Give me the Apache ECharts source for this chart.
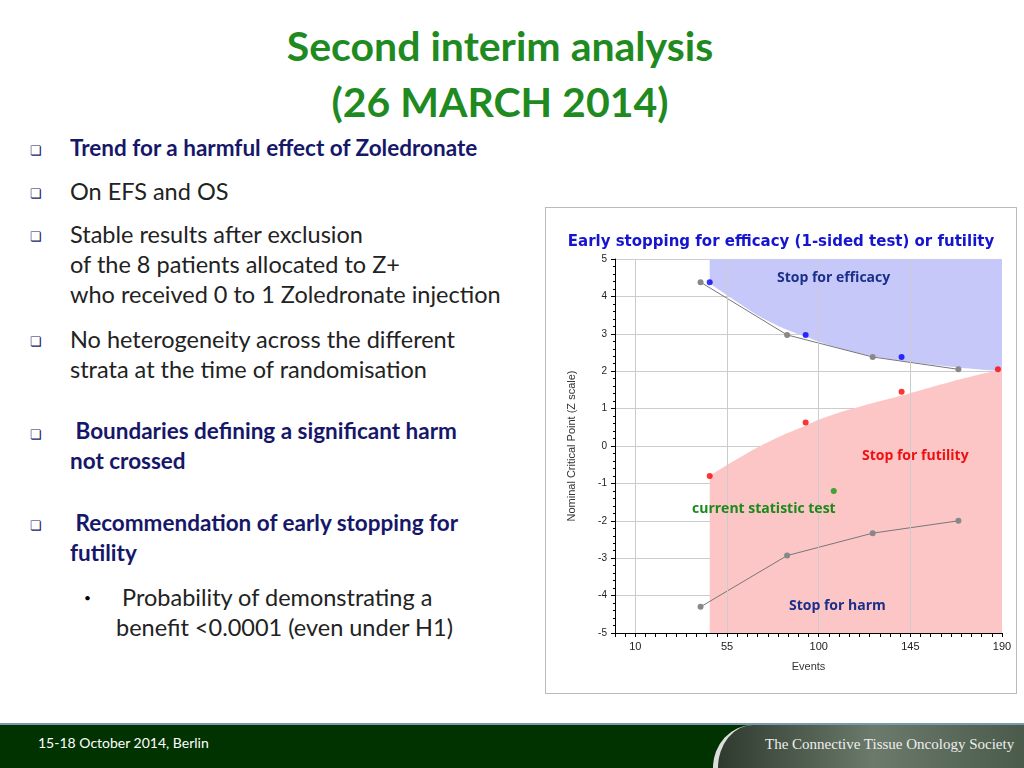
<!DOCTYPE html>
<html><head><meta charset="utf-8">
<script src="https://cdn.jsdelivr.net/npm/echarts@6/dist/echarts.min.js"></script>
<style>
body{margin:0;width:1024px;height:768px;overflow:hidden;background:#fff;font-family:Lato,"Open Sans",sans-serif;position:relative}
.t{position:absolute;white-space:nowrap}
.title{left:0;width:1000px;text-align:center;color:#1f8a1f;font-weight:bold;font-size:41px}
.b{left:30px;font-size:13px;color:#1a1a6e}
.tx{left:70px;font-size:23.5px;color:#222;line-height:30px}
.bold{font-weight:bold;color:#17176a;font-size:22.5px}
#chart{position:absolute;left:545px;top:207px;width:472px;height:487px;border:1px solid #bbb;box-sizing:border-box}
</style></head><body>
<div class="t title" style="top:21px">Second interim analysis</div>
<div class="t title" style="top:77px">(26 MARCH 2014)</div>
<div class="t b" style="top:142px">&#10063;</div><div class="t tx bold" style="top:133px">Trend for a harmful effect of Zoledronate</div>
<div class="t b" style="top:185px">&#10063;</div><div class="t tx" style="top:176px">On EFS and OS</div>
<div class="t b" style="top:228px">&#10063;</div><div class="t tx" style="top:219px">Stable results after exclusion<br>of the 8 patients allocated to Z+<br>who received 0 to 1 Zoledronate injection</div>
<div class="t b" style="top:333px">&#10063;</div><div class="t tx" style="top:324px">No heterogeneity across the different<br>strata at the time of randomisation</div>
<div class="t b" style="top:426px">&#10063;</div><div class="t tx bold" style="top:416px">&nbsp;Boundaries defining a significant harm<br>not crossed</div>
<div class="t b" style="top:517px">&#10063;</div><div class="t tx bold" style="top:508px">&nbsp;Recommendation of early stopping for<br>futility</div>
<div class="t" style="left:84px;top:590px;font-size:12px">&#8226;</div><div class="t tx" style="left:116px;top:582px">&nbsp;Probability of demonstrating a<br>benefit &lt;0.0001 (even under H1)</div>
<div id="chart"></div>
<div style="position:absolute;left:0;top:723px;width:1024px;height:45px;background:#003300;border-top:2px solid #7a9ab0"></div>
<div style="position:absolute;left:713px;top:725px;width:311px;height:43px;background:linear-gradient(90deg,#2e3a2e,#6b7a6b 50%,#4a5a4a);border-left:5px solid #ddd;border-top-left-radius:40px 43px"></div>
<div class="t" style="left:38px;top:734px;color:#fff;font-size:14px">15-18 October 2014, Berlin</div>
<div class="t" style="left:765px;top:736px;color:#eee;font-size:15px;font-family:'Liberation Serif',serif">The Connective Tissue Oncology Society</div>
<script>
const upperGray=[[42,4.38],[84.5,2.97],[126.5,2.38],[168.6,2.05]];
const lowerGray=[[42,-4.3],[84.5,-2.93],[126.5,-2.33],[168.6,-2.0]];
const bluePts=[[46.5,4.38],[93.6,2.97],[140.7,2.38]];
const redPts=[[46.5,-0.8],[93.6,0.63],[140.7,1.45],[188,2.05]];
const greenPt=[[107.4,-1.2]];
const effBoundary=[[46.5,4.35],[60,3.85],[75,3.35],[93.6,2.92],[110,2.62],[125,2.42],[140.7,2.28],[165,2.12],[190,2.0]];
const futBoundary=[[46.5,-0.8],[60,-0.35],[75,0.1],[93.6,0.55],[105,0.8],[120,1.05],[140.7,1.35],[165,1.72],[190,2.05]];
const xTicks=[10,55,100,145,190];
const c=echarts.init(document.getElementById('chart'));
const mk=(d,col)=>({type:'scatter',data:d,symbol:'circle',symbolSize:6,itemStyle:{color:col},z:5});
c.setOption({animation:false,
title:{text:'Early stopping for efficacy (1-sided test) or futility',left:'center',top:22,textStyle:{color:'#1515d0',fontSize:15,fontWeight:'bold',fontFamily:'DejaVu Sans'}},
grid:{left:69,right:14,top:51,bottom:60},
xAxis:{type:'value',min:0,max:190,interval:5,name:'Events',nameLocation:'middle',nameGap:28,nameTextStyle:{color:'#333',fontSize:11},
 axisLine:{onZero:false,lineStyle:{color:'#000'}},axisTick:{length:4,lineStyle:{color:'#000'}},
 axisLabel:{color:'#222',fontSize:11,interval:0,hideOverlap:false,formatter:v=>xTicks.includes(v)?String(v):''},
 splitLine:{show:false}},
yAxis:{type:'value',min:-5,max:5,interval:1,name:'Nominal Critical Point (Z scale)',nameLocation:'middle',nameGap:38,nameTextStyle:{color:'#333',fontSize:11},
 axisLine:{show:true,lineStyle:{color:'#000'}},axisTick:{show:true,length:4,lineStyle:{color:'#000'}},minorTick:{show:true,splitNumber:5,length:2},
 axisLabel:{color:'#222',fontSize:10},splitLine:{lineStyle:{color:'#ccc'}}},
series:[
{type:'line',data:effBoundary,smooth:true,symbol:'none',lineStyle:{width:0},areaStyle:{origin:'end',color:'#c6c8fa',opacity:1},z:1},
{type:'line',data:futBoundary,smooth:true,symbol:'none',lineStyle:{width:0},areaStyle:{origin:'start',color:'#fcc6c6',opacity:1},z:1},
{type:'line',data:[],symbol:'none',
 markLine:{silent:true,symbol:'none',label:{show:false},lineStyle:{color:'#ccc',type:'solid',width:1},data:xTicks.slice(0,4).map(v=>({xAxis:v}))},z:2},
{type:'line',data:upperGray,symbol:'circle',symbolSize:6,itemStyle:{color:'#888'},lineStyle:{color:'#777',width:1},z:4},
{type:'line',data:lowerGray,symbol:'circle',symbolSize:6,itemStyle:{color:'#888'},lineStyle:{color:'#777',width:1},z:4},
mk(bluePts,'#0000ff'),mk(redPts,'#ff0000'),mk(greenPt,'#119911')
],
graphic:[
{type:'text',z:100,left:231,top:63,style:{text:'Stop for efficacy',fill:'#1a2f8a',font:'bold 14px "Open Sans"'}},
{type:'text',z:100,left:316,top:241,style:{text:'Stop for futility',fill:'#ee1111',font:'bold 14px "Open Sans"'}},
{type:'text',z:100,left:146,top:294,style:{text:'current statistic test',fill:'#1a8a1a',font:'bold 14px "Open Sans"'}},
{type:'text',z:100,left:243,top:391,style:{text:'Stop for harm',fill:'#1a2f8a',font:'bold 14px "Open Sans"'}}
]});
</script></body></html>
